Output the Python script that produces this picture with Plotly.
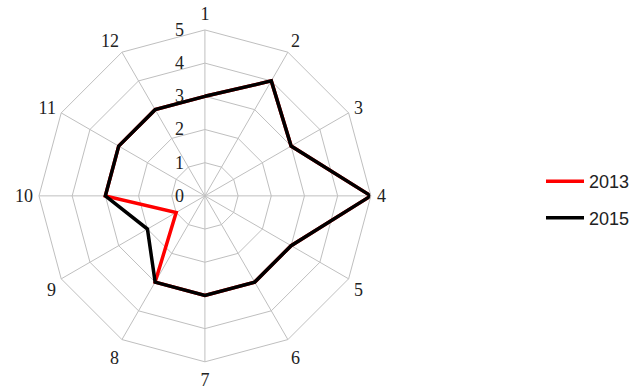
import plotly.graph_objects as go

categories = ["1", "2", "3", "4", "5", "6", "7", "8", "9", "10", "11", "12"]
values_2013 = [3, 4, 3, 5, 3, 3, 3, 3, 1, 3, 3, 3]
values_2015 = [3, 4, 3, 5, 3, 3, 3, 3, 2, 3, 3, 3]
radial_ticks = [0, 1, 2, 3, 4, 5]

def closed(seq):
    return list(seq) + [seq[0]]

fig = go.Figure()
fig.add_trace(go.Scatterpolar(
    r=closed(values_2013), theta=closed(categories), name="2013",
    mode="lines", line=dict(color="#ff0000", width=3.5),
    legendgroup="a",
))
fig.add_trace(go.Scatterpolar(
    r=closed(values_2015), theta=closed(categories), name="2015",
    mode="lines", line=dict(color="#000000", width=3.5),
    legendgroup="b",
))

fig.update_layout(
    width=635, height=391,
    margin=dict(l=0, r=0, t=0, b=0),
    paper_bgcolor="white",
    font=dict(family="Liberation Serif", size=18, color="#222"),
    polar=dict(
        domain=dict(x=[0.0614, 0.584], y=[0.0745, 0.9236]),
        gridshape="linear",
        bgcolor="white",
        angularaxis=dict(
            direction="clockwise", rotation=90,
            categoryorder="array", categoryarray=categories,
            showline=True, linecolor="#bfbfbf", linewidth=1,
            gridcolor="#bfbfbf", gridwidth=1,
            ticks="outside", ticklen=2, tickcolor="rgba(0,0,0,0)",
            tickfont=dict(size=18),
        ),
        radialaxis=dict(
            range=[0, 5], angle=90, side="counterclockwise",
            tickvals=radial_ticks, ticktext=[str(v) for v in radial_ticks],
            showline=False, gridcolor="#bfbfbf", gridwidth=1,
            ticks="outside", ticklen=14, tickcolor="rgba(0,0,0,0)",
            tickangle=90, tickfont=dict(size=18),
        ),
    ),
    showlegend=True,
    legend=dict(
        x=1.0, y=0.583, xanchor="right", yanchor="top",
        font=dict(family="Liberation Sans", size=18, color="#222"),
        itemwidth=38, tracegroupgap=10, bgcolor="rgba(0,0,0,0)",
    ),
)

fig.write_html("out.html")
